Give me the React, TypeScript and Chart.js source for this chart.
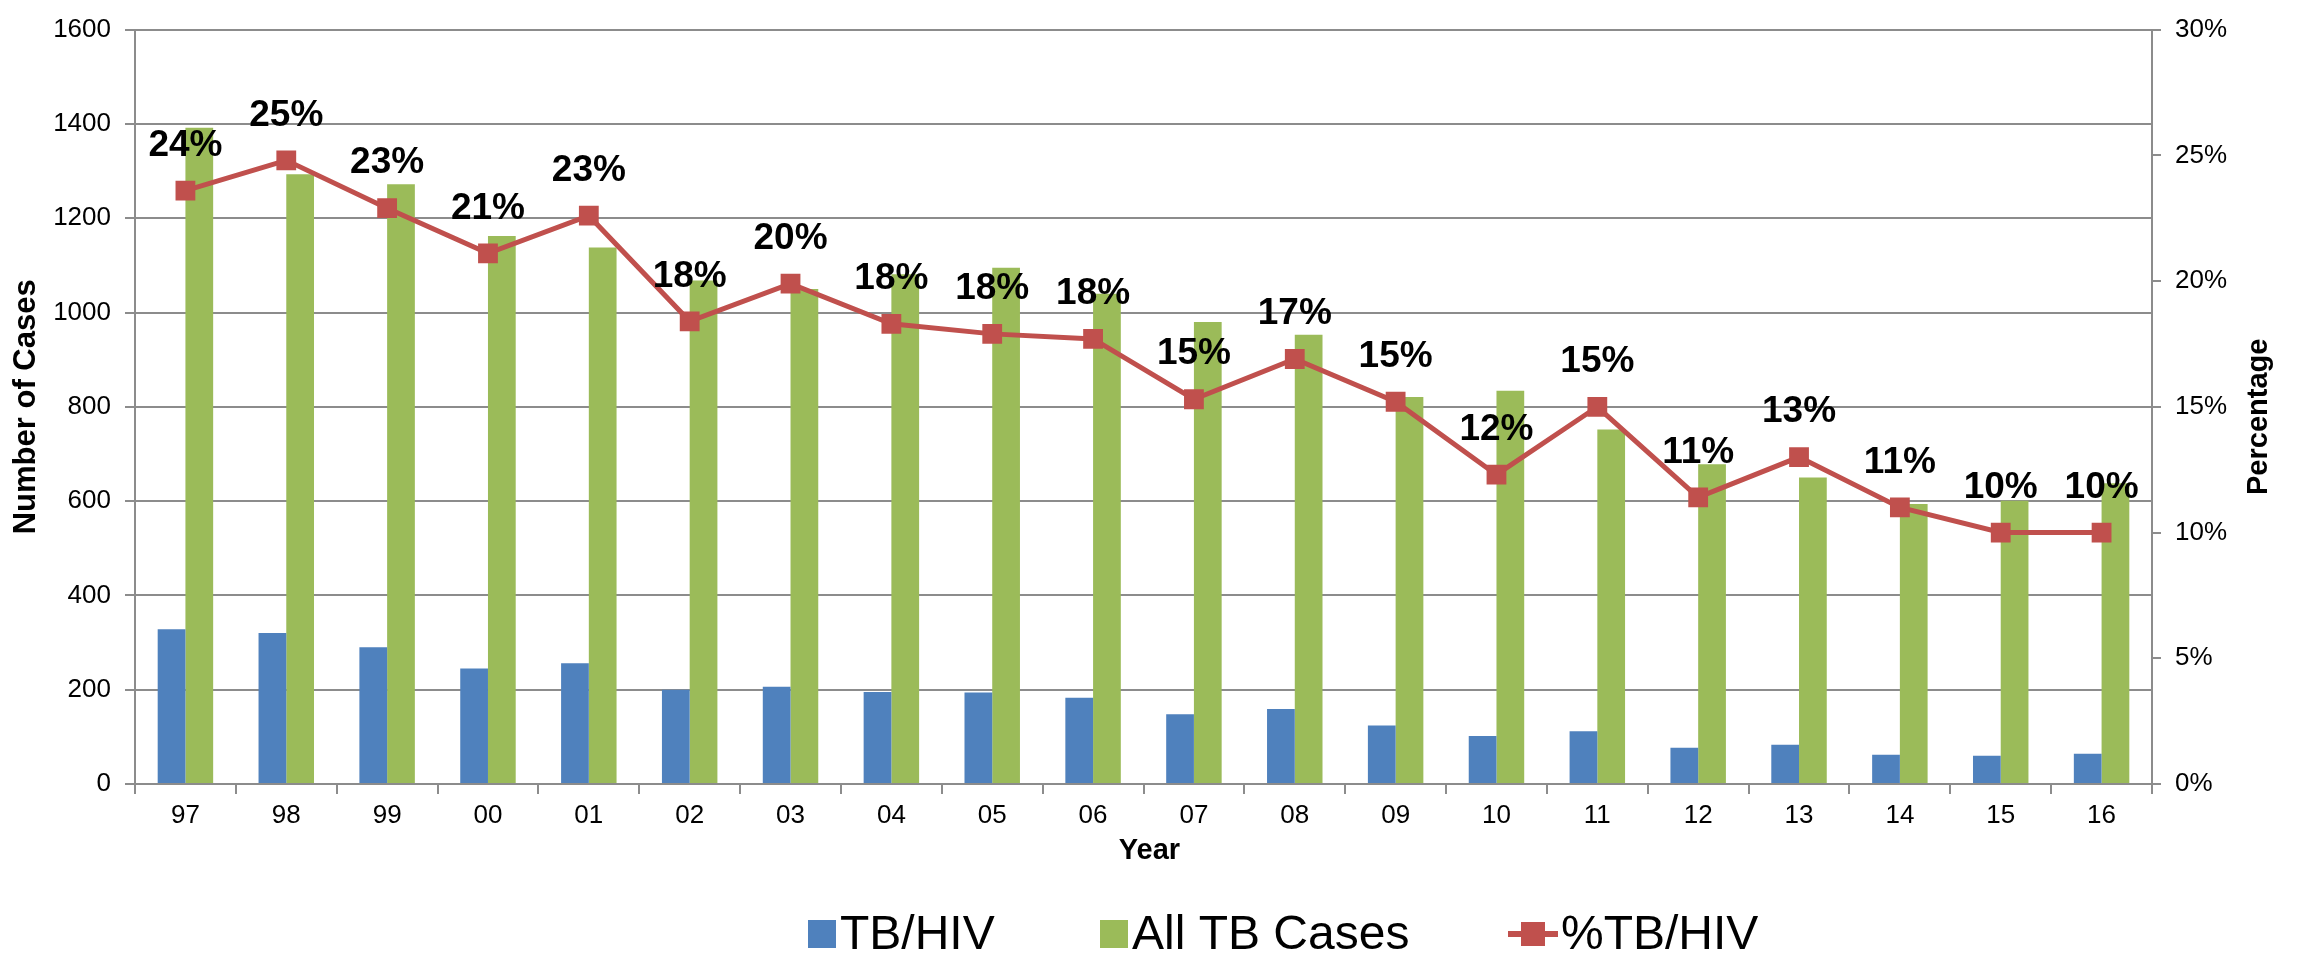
import React, { useEffect, useRef } from 'react';
import { Chart, registerables } from 'chart.js';

Chart.register(...registerables);

const FONT = '"Liberation Sans", Arial, Helvetica, sans-serif';

const years = ['97', '98', '99', '00', '01', '02', '03', '04', '05', '06', '07', '08', '09', '10', '11', '12', '13', '14', '15', '16'];
const tbHiv = [328, 320, 290, 245, 256, 200, 206, 195, 194, 183, 148, 159, 124, 102, 112, 77, 83, 62, 60, 64];
const allTb = [1392, 1293, 1272, 1162, 1138, 1068, 1050, 1081, 1095, 1040, 980, 953, 821, 834, 752, 678, 650, 594, 601, 638];
const pctTbHiv = [0.236, 0.248, 0.229, 0.211, 0.226, 0.184, 0.199, 0.183, 0.179, 0.177, 0.153, 0.169, 0.152, 0.123, 0.150, 0.114, 0.130, 0.110, 0.100, 0.100];

const seriesNames = ['TB/HIV', 'All TB Cases', '%TB/HIV'];
const leftTitle = 'Number of Cases';
const rightTitle = 'Percentage';
const xTitle = 'Year';

const BLUE = '#4F81BD';
const GREEN = '#9BBB59';
const RED = '#C0504D';
const GRID = '#8C8C8C';

export default function App() {
  const ref = useRef<HTMLCanvasElement | null>(null);

  useEffect(() => {
    if (!ref.current) return;

    const overlay = {
      id: 'overlay',
      afterDatasetsDraw(chart: any) {
        const ctx = chart.ctx;
        const meta = chart.getDatasetMeta(2);
        ctx.save();
        ctx.font = `bold 37px ${FONT}`;
        ctx.fillStyle = '#000';
        ctx.textAlign = 'center';
        ctx.textBaseline = 'middle';
        meta.data.forEach((pt: any, i: number) => {
          ctx.fillText(Math.round(pctTbHiv[i] * 100) + '%', pt.x, pt.y - 45);
        });
        ctx.restore();
      },
      afterDraw(chart: any) {
        const { ctx, chartArea } = chart;
        const midY = (chartArea.top + chartArea.bottom) / 2;
        const midX = (chartArea.left + chartArea.right) / 2;
        ctx.save();
        ctx.fillStyle = '#000';
        ctx.textAlign = 'center';
        ctx.textBaseline = 'middle';
        // left title
        ctx.font = `bold 31px ${FONT}`;
        ctx.save();
        ctx.translate(26, midY);
        ctx.rotate(-Math.PI / 2);
        ctx.fillText(leftTitle, 0, 0);
        ctx.restore();
        // right title
        ctx.font = `bold 29px ${FONT}`;
        ctx.save();
        ctx.translate(2259, midY + 10);
        ctx.rotate(-Math.PI / 2);
        ctx.fillText(rightTitle, 0, 0);
        ctx.restore();
        // x title
        ctx.fillText(xTitle, midX + 6, 851);

        // legend
        const ly = 934;
        const starts = [808, 1100, 1508];
        const colors = [BLUE, GREEN, RED];
        ctx.font = `48px ${FONT}`;
        ctx.textAlign = 'left';
        ctx.textBaseline = 'middle';
        for (let i = 0; i < 3; i++) {
          const x = starts[i];
          ctx.fillStyle = colors[i];
          if (i < 2) {
            ctx.fillRect(x, ly - 14, 28, 28);
            ctx.fillStyle = '#000';
            ctx.fillText(seriesNames[i], x + 32, ly + 2);
          } else {
            ctx.strokeStyle = RED;
            ctx.lineWidth = 6;
            ctx.beginPath();
            ctx.moveTo(x, ly);
            ctx.lineTo(x + 50, ly);
            ctx.stroke();
            ctx.fillRect(x + 13, ly - 12, 24, 24);
            ctx.fillStyle = '#000';
            ctx.fillText(seriesNames[i], x + 53, ly + 2);
          }
        }
        ctx.restore();
      },
    };

    const chart = new Chart(ref.current, {
      type: 'bar',
      data: {
        labels: years,
        datasets: [
          {
            type: 'bar',
            label: seriesNames[0],
            data: tbHiv,
            backgroundColor: BLUE,
            borderWidth: 0,
            yAxisID: 'y',
            categoryPercentage: 0.55,
            barPercentage: 1.0,
            order: 2,
          },
          {
            type: 'bar',
            label: seriesNames[1],
            data: allTb,
            backgroundColor: GREEN,
            borderWidth: 0,
            yAxisID: 'y',
            categoryPercentage: 0.55,
            barPercentage: 1.0,
            order: 2,
          },
          {
            type: 'line',
            label: seriesNames[2],
            data: pctTbHiv,
            borderColor: RED,
            backgroundColor: RED,
            borderWidth: 5,
            pointStyle: 'rect',
            pointRadius: 14,
            pointBackgroundColor: RED,
            pointBorderColor: RED,
            pointBorderWidth: 0,
            tension: 0,
            yAxisID: 'y1',
            order: 0,
          } as any,
        ],
      },
      options: {
        animation: false,
        responsive: true,
        maintainAspectRatio: false,
        layout: { padding: { top: 19, left: 0, right: 0, bottom: 0 } },
        plugins: {
          legend: { display: false },
          tooltip: { enabled: false },
          title: { display: false },
        },
        scales: {
          x: {
            type: 'category',
            grid: {
              offset: true,
              drawOnChartArea: false,
              drawTicks: true,
              tickLength: 10,
              color: GRID,
              lineWidth: 2,
            },
            border: { display: true, color: GRID, width: 2 },
            ticks: {
              font: { size: 26, family: FONT },
              color: '#000',
              padding: 6,
              maxRotation: 0,
              autoSkip: false,
            },
            afterFit: (s: any) => {
              s.height = 957 - 784;
            },
          },
          y: {
            position: 'left',
            min: 0,
            max: 1600,
            ticks: {
              stepSize: 200,
              font: { size: 26, family: FONT },
              color: '#000',
              padding: 14,
              callback: (v: any) => String(Math.round(Number(v))),
            },
            grid: { color: GRID, lineWidth: 2, tickLength: 10 },
            border: { display: true, color: GRID, width: 2 },
            afterFit: (s: any) => {
              s.width = 135;
            },
          },
          y1: {
            position: 'right',
            min: 0,
            max: 0.3,
            ticks: {
              stepSize: 0.05,
              font: { size: 26, family: FONT },
              color: '#000',
              padding: 14,
              callback: (v: any) => Math.round(Number(v) * 100) + '%',
            },
            grid: { drawOnChartArea: false, color: GRID, lineWidth: 2, tickLength: 9 },
            border: { display: true, color: GRID, width: 2 },
            afterFit: (s: any) => {
              s.width = 2300 - 2152;
            },
          },
        },
      } as any,
      plugins: [overlay],
    });

    return () => chart.destroy();
  }, []);

  return (
    <div style={{ position: 'fixed', left: 0, top: 0, width: 2300, height: 957, background: '#fff' }}>
      <canvas ref={ref} />
    </div>
  );
}
